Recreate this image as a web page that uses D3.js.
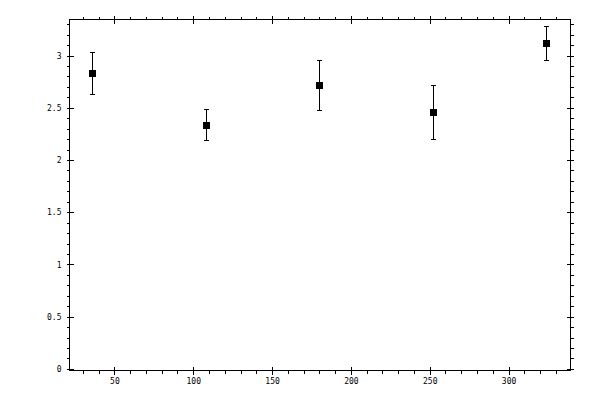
<!DOCTYPE html>
<html><head><meta charset="utf-8">
<script src="https://cdn.jsdelivr.net/npm/d3@7"></script>
<style>body{margin:0;background:#fff}svg{display:block}text{font-family:"DejaVu Sans Mono",monospace;font-size:8px;fill:#000}</style>
</head><body><svg id="c" width="600" height="400"></svg>
<script>
const xValues = [36, 108, 180, 252, 324];
const yValues = [2.828, 2.332, 2.713, 2.454, 3.115];
const yErrors = [0.2, 0.15, 0.235, 0.255, 0.166];
const xMajorTicks = [50, 100, 150, 200, 250, 300];
const yMajorTicks = [0, 0.5, 1, 1.5, 2, 2.5, 3];
const yTickLabels = ["0", "0.5", "1", "1.5", "2", "2.5", "3"];

const svg = d3.select("#c");
const L = 69.5, R = 570.5, T = 19.5, B = 370.5;
const x = d3.scaleLinear().domain([21.5, 339.3]).range([L, R]);
const y = d3.scaleLinear().domain([-0.015, 3.345]).range([B, T]);

const xMinor = d3.range(30, 340, 10).filter(v => v % 50 !== 0);
const yMinor = d3.range(0, 34).map(i => +(i / 10).toFixed(1)).filter(v => Math.abs(v * 2 - Math.round(v * 2)) > 1e-6);

function ax(gen, tx, ty) {
  const g = svg.append("g").attr("transform", `translate(${tx},${ty})`).call(gen);
  g.select(".domain").remove();
  g.selectAll("line").attr("stroke", "#000").attr("shape-rendering", "crispEdges");
  return g;
}
// bottom
ax(d3.axisBottom(x).tickValues(xMinor).tickSize(3).tickFormat(""), 0, B);
ax(d3.axisBottom(x).tickValues(xMajorTicks).tickSize(4).tickFormat(d3.format("d")).tickPadding(4), 0, B);
ax(d3.axisTop(x).tickValues(xMajorTicks).tickSize(4).tickFormat(""), 0, B);
// top
ax(d3.axisTop(x).tickValues(xMinor).tickSize(3).tickFormat(""), 0, T);
ax(d3.axisTop(x).tickValues(xMajorTicks).tickSize(4).tickFormat(""), 0, T);
ax(d3.axisBottom(x).tickValues(xMajorTicks).tickSize(4).tickFormat(""), 0, T);
// left
ax(d3.axisLeft(y).tickValues(yMinor).tickSize(3).tickFormat(""), L, 0);
ax(d3.axisLeft(y).tickValues(yMajorTicks).tickSize(3).tickFormat((d, i) => yTickLabels[i]).tickPadding(5), L, 0);
ax(d3.axisRight(y).tickValues(yMajorTicks).tickSize(4).tickFormat(""), L, 0);
// right
ax(d3.axisRight(y).tickValues(yMinor).tickSize(3).tickFormat(""), R, 0);
ax(d3.axisRight(y).tickValues(yMajorTicks).tickSize(3).tickFormat(""), R, 0);
ax(d3.axisLeft(y).tickValues(yMajorTicks).tickSize(4).tickFormat(""), R, 0);

svg.selectAll("text").attr("font-family", "DejaVu Sans Mono").attr("font-size", 8).attr("fill", "#000");

svg.append("rect").attr("x", L).attr("y", T).attr("width", R - L).attr("height", B - T)
  .attr("fill", "none").attr("stroke", "#000").attr("shape-rendering", "crispEdges");

const data = xValues.map((v, i) => ({x: v, y: yValues[i], e: yErrors[i]}));
const pts = svg.append("g");
data.forEach(d => {
  const cx = Math.round(x(d.x)) + 0.5;
  const g = pts.append("g").attr("stroke", "#000").attr("shape-rendering", "crispEdges");
  g.append("line").attr("x1", cx).attr("x2", cx).attr("y1", y(d.y - d.e)).attr("y2", y(d.y + d.e));
  g.append("line").attr("x1", cx - 2.5).attr("x2", cx + 2.5).attr("y1", y(d.y + d.e)).attr("y2", y(d.y + d.e));
  g.append("line").attr("x1", cx - 2.5).attr("x2", cx + 2.5).attr("y1", y(d.y - d.e)).attr("y2", y(d.y - d.e));
  pts.append("rect").attr("x", cx - 3.5).attr("y", y(d.y) - 3.5).attr("width", 7).attr("height", 7)
    .attr("fill", "#000").attr("shape-rendering", "crispEdges");
});
</script></body></html>
